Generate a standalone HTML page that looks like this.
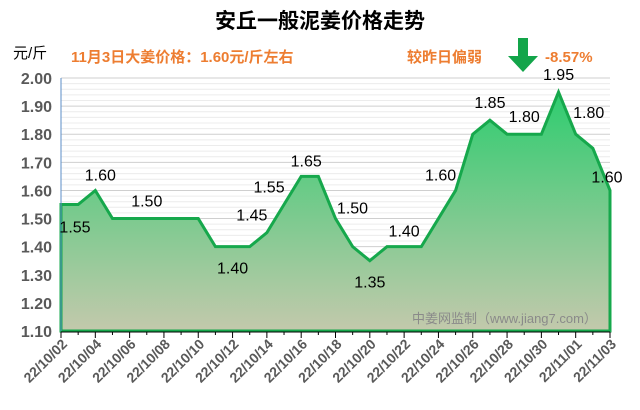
<!DOCTYPE html>
<html><head><meta charset="utf-8"><style>
body{margin:0;background:#fff;}
svg{display:block;font-family:"Liberation Sans","Noto Sans CJK SC",sans-serif;}
</style></head><body>
<svg id="chart" width="640" height="410" viewBox="0 0 640 410" xmlns="http://www.w3.org/2000/svg">
<defs>
<linearGradient id="fillg" x1="0" y1="0" x2="0" y2="1">
<stop offset="0" stop-color="#2ecc6f"/>
<stop offset="1" stop-color="#c3c9ac"/>
</linearGradient>
</defs>
<text x="320" y="28" text-anchor="middle" font-size="21" font-weight="bold" fill="#000">安丘一般泥姜价格走势</text>
<text x="13" y="58" font-size="15" fill="#000">元/斤</text>
<text x="71" y="62" font-size="15" font-weight="bold" fill="#ED7D31">11月3日大姜价格：1.60元/斤左右</text>
<text x="407" y="62" font-size="15" font-weight="bold" fill="#ED7D31">较昨日偏弱</text>
<g><rect x="518" y="38" width="10" height="20" fill="#13a54a"/><polygon points="508,56 538,56 523,72" fill="#13a54a"/></g>
<text x="545" y="62" font-size="15" font-weight="bold" fill="#ED7D31">-8.57%</text>
<g id="grid"></g><g id="area"></g><g id="axes"></g><g id="labels"></g>
<text x="412" y="323" font-size="13" fill="#8a8a8a">中姜网监制（www.jiang7.com）</text>
</svg>
<script>
const dates=["22/10/02","22/10/03","22/10/04","22/10/05","22/10/06","22/10/07","22/10/08","22/10/09","22/10/10","22/10/11","22/10/12","22/10/13","22/10/14","22/10/15","22/10/16","22/10/17","22/10/18","22/10/19","22/10/20","22/10/21","22/10/22","22/10/23","22/10/24","22/10/25","22/10/26","22/10/27","22/10/28","22/10/29","22/10/30","22/10/31","22/11/01","22/11/02","22/11/03"];
const prices=[1.55,1.55,1.60,1.50,1.50,1.50,1.50,1.50,1.50,1.40,1.40,1.40,1.45,1.55,1.65,1.65,1.50,1.40,1.35,1.40,1.40,1.40,1.50,1.60,1.80,1.85,1.80,1.80,1.80,1.95,1.80,1.75,1.60];
const yTicks=["1.10","1.20","1.30","1.40","1.50","1.60","1.70","1.80","1.90","2.00"];
const labelIdx=[0,2,5,10,12,13,14,16,18,20,23,25,27,29,30,32];
const NS="http://www.w3.org/2000/svg";
const X0=61,X1=610,YT=78,YB=331,YMIN=1.1,YMAX=2.0;
const xs=i=>X0+(X1-X0)*i/(dates.length-1);
const ys=v=>YB-(v-YMIN)/(YMAX-YMIN)*(YB-YT);
function mk(tag,attrs,parent){const e=document.createElementNS(NS,tag);for(const k in attrs)e.setAttribute(k,attrs[k]);parent.appendChild(e);return e;}
const grid=document.getElementById('grid'),area=document.getElementById('area'),axes=document.getElementById('axes'),labels=document.getElementById('labels');
for(let v=YMIN;v<=YMAX+1e-9;v+=0.02){const y=ys(v);const major=Math.abs(Math.round(v*10)-v*10)<1e-6;
 const l=mk('line',{x1:X0,x2:X1,y1:y,y2:y,stroke:major?'#cfcfcf':'#ececec','stroke-width':1},grid);
 
 }
yTicks.forEach(t=>{const tx=mk('text',{x:52,y:ys(parseFloat(t))+6,'text-anchor':'end','font-size':16,'font-weight':'bold',fill:'#595959'},axes);tx.textContent=t;
 
 });
let d=`M${xs(0)},${YB}`;prices.forEach((p,i)=>d+=` L${xs(i)},${ys(p)}`);d+=` L${xs(prices.length-1)},${YB} Z`;
const ar=mk('path',{d:d,fill:'url(#fillg)'},area);


const ln=mk('path',{d:d,fill:'none',stroke:'#16a84c','stroke-width':3,'stroke-linejoin':'miter'},area);


const va=mk('line',{x1:X0,x2:X0,y1:YT,y2:YB,stroke:'#5b8ec7','stroke-width':1},axes);


const ha=mk('line',{x1:X0,x2:X1,y1:YB+1,y2:YB+1,stroke:'#000','stroke-width':1},axes);


dates.forEach((dt,i)=>{const x=xs(i);const major=i%2===0;
 mk('line',{x1:x,x2:x,y1:YB+1,y2:YB+(major?7:4),stroke:'#000','stroke-width':1},axes);
 if(major){const t=mk('text',{x:x+7,y:YB+14,'text-anchor':'end','font-size':14,'font-weight':'bold',fill:'#595959',transform:`rotate(-45 ${x+7} ${YB+14})`},axes);t.textContent=dt;
 
 }});
const offs={0:[14,28],2:[5,-10],5:[0,-12],10:[0,27],12:[-15,-12],13:[-15,-12],14:[5,-10],16:[17,-5],18:[0,27],20:[0,-10],23:[-15,-10],25:[0,-12],27:[0,-12],29:[0,-12],30:[13,-16],32:[-3,-8]};
labelIdx.forEach(i=>{const o=offs[i]||[0,-10];const t=mk('text',{x:xs(i)+o[0],y:ys(prices[i])+o[1],'text-anchor':'middle','font-size':16,fill:'#000'},labels);t.textContent=prices[i].toFixed(2);
 
 });
</script>
</body></html>
